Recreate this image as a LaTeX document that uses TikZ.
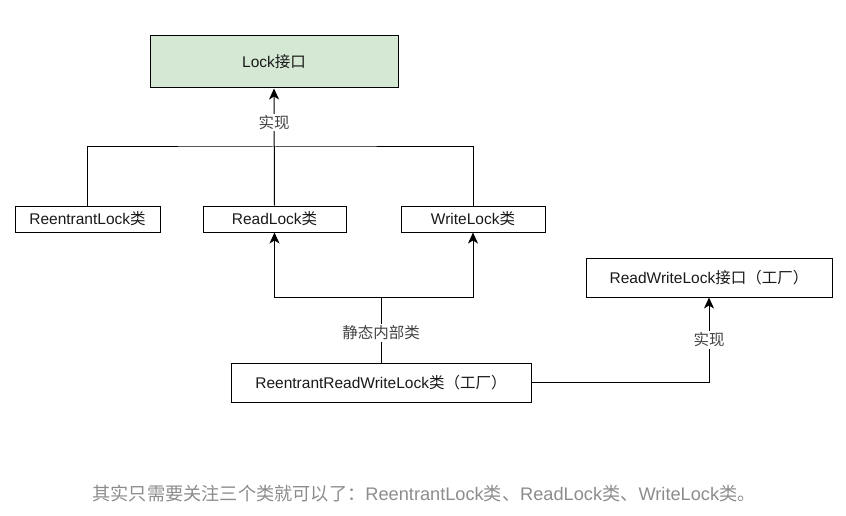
\documentclass[tikz,border=0pt]{standalone}
\usepackage{fontspec}
\setmainfont{Liberation Sans}
\newfontfamily\cjk{Noto Sans CJK SC}
\usetikzlibrary{arrows.meta}
\definecolor{lockgreen}{HTML}{D5E8D4}
\definecolor{captiongray}{HTML}{8C8C8C}
\definecolor{labelgray}{HTML}{444444}
\tikzset{
  boxnode/.style={draw=black, line width=1pt, inner sep=0pt, text=black!90,
    font=\fontsize{15.5}{17}\selectfont},
  lbl/.style={fill=white, inner sep=1.5pt, text=labelgray,
    font=\fontsize{15.5}{17}\selectfont},
  conn/.style={line width=1pt, draw=black},
  arr/.style={conn, -{Stealth[length=11pt,width=10pt,inset=3pt]}},
}
\begin{document}
\begin{tikzpicture}[x=1pt,y=-1pt]
\useasboundingbox (0,0) rectangle (846,516);
\node[boxnode, fill=lockgreen, minimum width=248pt, minimum height=52pt] (lock) at (274,62) {Lock{\cjk 接口}};
\node[boxnode, minimum width=145pt, minimum height=26pt] (rlock) at (87.5,219) {ReentrantLock{\cjk 类}};
\node[boxnode, minimum width=143pt, minimum height=26pt] (readlock) at (274.5,219) {ReadLock{\cjk 类}};
\node[boxnode, minimum width=144pt, minimum height=26pt] (writelock) at (473,219) {WriteLock{\cjk 类}};
\node[boxnode, minimum width=246pt, minimum height=39pt] (rwl) at (709,277.5) {ReadWriteLock{\cjk 接口（工厂）}};
\node[boxnode, minimum width=300pt, minimum height=39pt] (rrwl) at (381,382.5) {ReentrantReadWriteLock{\cjk 类（工厂）}};
\coordinate (hb) at (274,147);
\coordinate (hm) at (381,297);
% implementation of Lock
\draw[arr] (readlock.north) -- (lock.south) node[lbl, pos=0.71] {\cjk 实现};
\draw[conn] (rlock.north) |- (hb) -| (writelock.north);
% static inner classes
\draw[conn] (rrwl.north) -- (hm) node[lbl, pos=0.45] {\cjk 静态内部类};
\draw[arr] (hm) -| (readlock.south);
\draw[arr] (hm) -| (writelock.south);
% implements ReadWriteLock
\draw[arr] (rrwl.east) -| (rwl.south) node[lbl, pos=0.75] {\cjk 实现};
% caption
\node[text=captiongray, inner sep=0pt, font=\fontsize{18.2}{20}\selectfont] (cap) at (424,494)
  {{\cjk 其实只需要关注三个类就可以了：}ReentrantLock{\cjk 类、}ReadLock{\cjk 类、}WriteLock{\cjk 类。}};
\end{tikzpicture}
\end{document}
